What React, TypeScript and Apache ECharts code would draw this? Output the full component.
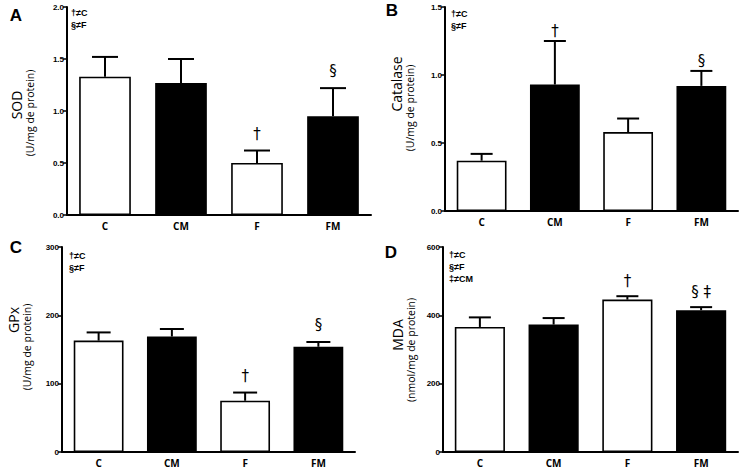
import React, { useEffect, useRef } from "react";
import * as echarts from "echarts";

const categories = ["C", "CM", "F", "FM"];

const sodMean = [1.33, 1.27, 0.5, 0.95];
const sodSem = [0.19, 0.23, 0.12, 0.27];
const sodMarks = ["", "", "†", "§"];

const catalaseMean = [0.37, 0.93, 0.58, 0.92];
const catalaseSem = [0.05, 0.32, 0.1, 0.11];
const catalaseMarks = ["", "†", "", "§"];

const gpxMean = [163, 169, 75, 154];
const gpxSem = [12, 11, 12, 7];
const gpxMarks = ["", "", "†", "§"];

const mdaMean = [366, 373, 446, 415];
const mdaSem = [28, 19, 10, 9];
const mdaMarks = ["", "", "†", "§ ‡"];

const barColors = ["#ffffff", "#000000", "#ffffff", "#000000"];

type Panel = {
  letter: string;
  title: string;
  unit: string;
  mean: number[];
  sem: number[];
  marks: string[];
  legend: string[];
  max: number;
  interval: number;
  decimals: number;
  grid: { left: number; top: number; width: number; height: number };
  letterPos: [number, number];
  titlePos: [number, number];
  unitPos: [number, number];
  legendPos: [number, number];
  markGap: number;
  cap: number;
};

const panels: Panel[] = [
  {
    letter: "A", title: "SOD", unit: "(U/mg de protein)",
    mean: sodMean, sem: sodSem, marks: sodMarks, legend: ["†≠C", "§≠F"],
    max: 2.0, interval: 0.5, decimals: 1,
    grid: { left: 67, top: 7, width: 304, height: 208 },
    letterPos: [16, 15], titlePos: [16, 105], unitPos: [30, 113], legendPos: [71, 13], markGap: 17, cap: 13,
  },
  {
    letter: "B", title: "Catalase", unit: "(U/mg de protein)",
    mean: catalaseMean, sem: catalaseSem, marks: catalaseMarks, legend: ["†≠C", "§≠F"],
    max: 1.5, interval: 0.5, decimals: 1,
    grid: { left: 445, top: 7, width: 293, height: 204 },
    letterPos: [392, 10], titlePos: [396, 84], unitPos: [410, 108], legendPos: [451, 14], markGap: 10, cap: 11,
  },
  {
    letter: "C", title: "GPx", unit: "(U/mg de protein)",
    mean: gpxMean, sem: gpxSem, marks: gpxMarks, legend: ["†≠C", "§≠F"],
    max: 300, interval: 100, decimals: 0,
    grid: { left: 62, top: 247, width: 293, height: 205 },
    letterPos: [16, 247], titlePos: [13, 320], unitPos: [27, 347], legendPos: [69, 256], markGap: 17, cap: 12,
  },
  {
    letter: "D", title: "MDA", unit: "(nmol/mg de protein)",
    mean: mdaMean, sem: mdaSem, marks: mdaMarks, legend: ["†≠C", "§≠F", "‡≠CM"],
    max: 600, interval: 200, decimals: 0,
    grid: { left: 443, top: 247, width: 295, height: 205 },
    letterPos: [391, 252], titlePos: [397, 335], unitPos: [411, 350], legendPos: [449, 255], markGap: 15, cap: 11,
  },
];

export default function App() {
  const ref = useRef<HTMLDivElement>(null);

  useEffect(() => {
    if (!ref.current) return;
    const chart = echarts.init(ref.current, undefined, { renderer: "svg" });

    const grids: any[] = [];
    const xAxes: any[] = [];
    const yAxes: any[] = [];
    const series: any[] = [];
    const graphics: any[] = [];

    panels.forEach((p, i) => {
      grids.push({ ...p.grid, containLabel: false });
      xAxes.push({
        type: "category",
        gridIndex: i,
        data: categories,
        axisLine: { show: true, lineStyle: { color: "#000", width: 2 } },
        axisTick: { show: false },
        axisLabel: {
          color: "#000",
          fontFamily: "Open Sans",
          fontWeight: "bold",
          fontSize: 10,
          lineHeight: 11,
          margin: 5,
        },
        splitLine: { show: false },
      });
      yAxes.push({
        type: "value",
        gridIndex: i,
        min: 0,
        max: p.max,
        interval: p.interval,
        axisLine: { show: true, lineStyle: { color: "#000", width: 2 } },
        axisTick: { show: true, length: 4, lineStyle: { color: "#000", width: 1.5 } },
        axisLabel: {
          color: "#000",
          fontFamily: "Liberation Sans",
          fontWeight: "bold",
          fontSize: 8,
          margin: 3,
          formatter: (v: number) => v.toFixed(p.decimals),
        },
        splitLine: { show: false },
      });
      series.push({
        type: "bar",
        xAxisIndex: i,
        yAxisIndex: i,
        barWidth: "68%",
        data: p.mean.map((v, k) => ({
          value: v,
          itemStyle: { color: barColors[k], borderColor: "#000", borderWidth: 1.6 },
        })),
        z: 2,
      });
      const cap = p.cap;
      const gap = p.markGap;
      series.push({
        type: "custom",
        xAxisIndex: i,
        yAxisIndex: i,
        z: 3,
        data: p.mean.map((v, k) => [k, v, v + p.sem[k]]),
        renderItem: (params: any, api: any) => {
          const k = api.value(0);
          const base = api.coord([k, api.value(1)]);
          const top = api.coord([k, api.value(2)]);
          const mark = p.marks[k];
          const children: any[] = [
            {
              type: "line",
              shape: { x1: base[0], y1: base[1], x2: top[0], y2: top[1] },
              style: { stroke: "#000", lineWidth: 2 },
            },
            {
              type: "line",
              shape: { x1: top[0] - cap, y1: top[1], x2: top[0] + cap, y2: top[1] },
              style: { stroke: "#000", lineWidth: 2 },
            },
          ];
          if (mark) {
            children.push({
              type: "text",
              x: top[0],
              y: top[1] - gap,
              style: {
                text: mark,
                fill: "#000",
                font: '15px "DejaVu Sans"',
                align: "center",
                verticalAlign: "middle",
                textAlign: "center",
                textVerticalAlign: "middle",
              },
            });
          }
          return { type: "group", children };
        },
      });

      graphics.push({
        type: "text",
        x: p.letterPos[0],
        y: p.letterPos[1],
        style: {
          text: p.letter,
          fill: "#000",
          font: 'bold 17px "Liberation Sans"',
          align: "center",
          verticalAlign: "middle",
          textAlign: "center",
          textVerticalAlign: "middle",
        },
      });
      graphics.push({
        type: "text",
        x: p.titlePos[0],
        y: p.titlePos[1],
        rotation: Math.PI / 2,
        style: {
          text: p.title,
          fill: "#000",
          font: '14px "Open Sans"',
          align: "center",
          verticalAlign: "middle",
          textAlign: "center",
          textVerticalAlign: "middle",
        },
      });
      graphics.push({
        type: "text",
        x: p.unitPos[0],
        y: p.unitPos[1],
        rotation: Math.PI / 2,
        style: {
          text: p.unit,
          fill: "#000",
          font: '10.5px "Open Sans"',
          align: "center",
          verticalAlign: "middle",
          textAlign: "center",
          textVerticalAlign: "middle",
        },
      });
      p.legend.forEach((t, j) => {
        graphics.push({
          type: "text",
          x: p.legendPos[0],
          y: p.legendPos[1] + j * 12,
          style: {
            text: t,
            fill: "#000",
            font: 'bold 9px "Liberation Sans"',
            align: "left",
            verticalAlign: "middle",
            textAlign: "left",
            textVerticalAlign: "middle",
          },
        });
      });
    });

    chart.setOption({
      animation: false,
      backgroundColor: "#ffffff",
      grid: grids,
      xAxis: xAxes,
      yAxis: yAxes,
      series,
      graphic: graphics,
    });

    return () => chart.dispose();
  }, []);

  return (
    <div
      ref={ref}
      style={{ position: "fixed", left: 0, top: 0, width: 740, height: 468, background: "#fff" }}
    />
  );
}
